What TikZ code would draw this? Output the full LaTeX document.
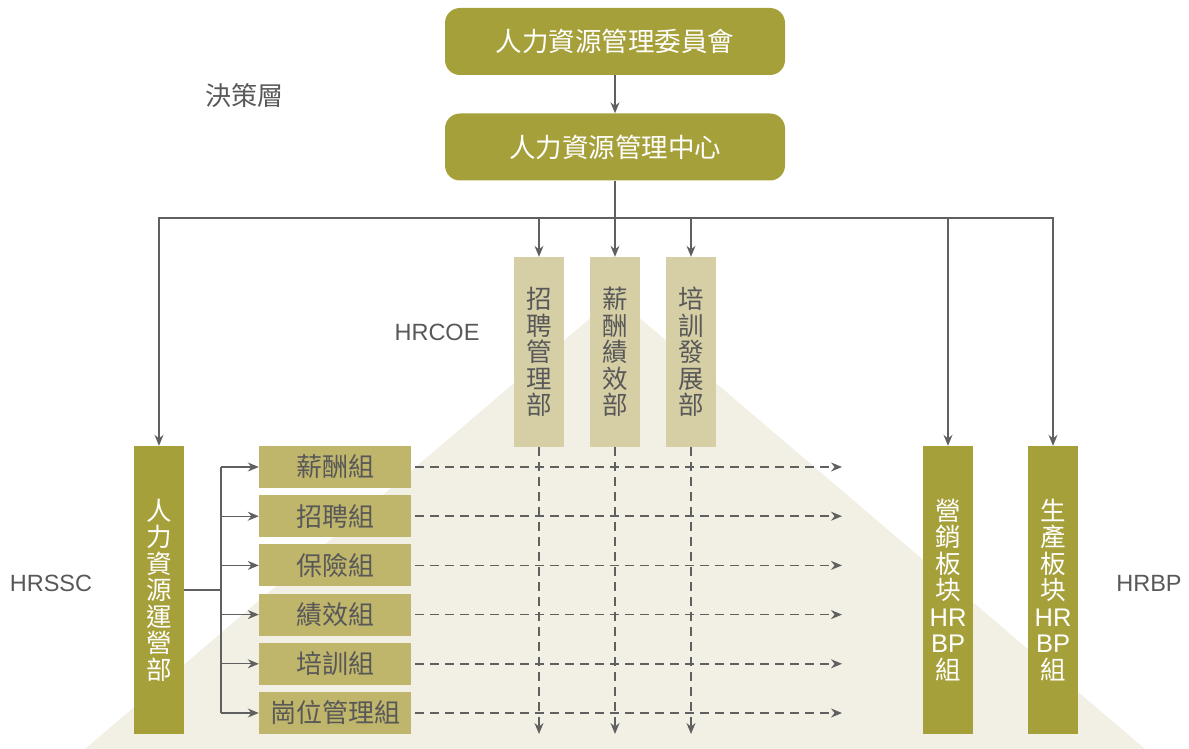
\documentclass[tikz,border=0pt]{standalone}
\usepackage{fontspec}
\setmainfont{Liberation Sans}
\newfontfamily\cjk{Noto Sans CJK TC}
\usetikzlibrary{arrows.meta}
\definecolor{hrolive}{HTML}{A6A03A}
\definecolor{grpfill}{HTML}{BFB56B}
\definecolor{colfill}{HTML}{D6CFA6}
\definecolor{tribg}{HTML}{F2F0E4}
\definecolor{linegray}{HTML}{606060}
\definecolor{txtgray}{HTML}{585858}
\begin{document}
\begin{tikzpicture}[x=1pt,y=-1pt,
  box/.style={inner sep=0pt,align=center,font=\cjk\fontsize{25.5}{26.5}\selectfont},
  topbox/.style={box,fill=hrolive,text=white,rounded corners=15pt,minimum width=340pt,minimum height=67pt,font=\cjk\fontsize{26.5}{27}\selectfont},
  colbox/.style={box,fill=colfill,text=txtgray,minimum width=50pt,minimum height=190pt},
  tallbox/.style={box,fill=hrolive,text=white,minimum width=50pt,minimum height=288pt},
  grpbox/.style={box,fill=grpfill,text=txtgray,minimum width=152pt,minimum height=42pt,font=\cjk\fontsize{26}{27}\selectfont},
  lab/.style={text=txtgray,inner sep=0pt,font=\fontsize{23.5}{26}\selectfont},
  cjklab/.style={text=txtgray,inner sep=0pt,font=\cjk\fontsize{26}{26}\selectfont},
  arr/.style={draw=linegray,line width=1.3pt,-{Stealth[length=11pt,width=9pt]}},
  dasharr/.style={arr,line width=1.5pt,dash pattern=on 9pt off 6pt}]
\useasboundingbox (0,0) rectangle (1189,749);
% background
\fill[tribg] (85,749) -- (615,297) -- (1145,749) -- cycle;
% decision layer
\node[topbox] (comm) at (615,41.5) {人力資源管理委員會};
\node[topbox] (hrmc) at (615,147) {人力資源管理中心};
\node[cjklab] (dec) at (244,96) {決策層};
\draw[arr] (comm) -- (hrmc);
\coordinate (bus) at (615,218);
\coordinate (dend) at (842,734);
% COE
\node[colbox] (recr) at (539,352) {招\\聘\\管\\理\\部};
\node[colbox] (comp) at (615,352) {薪\\酬\\績\\效\\部};
\node[colbox] (train) at (691,352) {培\\訓\\發\\展\\部};
\node[lab] (coe) at (437,332) {HRCOE};
% SSC and BP
\node[tallbox] (ops) at (159,590) {人\\力\\資\\源\\運\\營\\部};
\node[tallbox] (sales) at (948,590) {營\\銷\\板\\块\\\normalfont HR\\\normalfont BP\\組};
\node[tallbox] (prod) at (1053,590) {生\\產\\板\\块\\\normalfont HR\\\normalfont BP\\組};
\node[lab] (ssc) at (51,583) {HRSSC};
\node[lab] (bp) at (1149,583) {HRBP};
\draw[draw=linegray,line width=1.3pt] (hrmc) -- (bus);
\draw[arr] (bus) -| (ops.north);
\draw[arr] (bus) -| (sales.north);
\draw[arr] (bus) -| (prod.north);
\foreach \m in {recr,comp,train}{
  \draw[arr] (bus -| \m) -- (\m.north);
  \draw[dasharr] (\m.south) -- (\m.south |- dend);
}
% groups
\coordinate (fork) at (221,590);
\draw[draw=linegray,line width=1.3pt] (ops.east |- fork) -- (fork);
\foreach \g/\txt [count=\i] in {g1/薪酬組,g2/招聘組,g3/保險組,g4/績效組,g5/培訓組,g6/崗位管理組}{
  \node[grpbox] (\g) at (335,467+49.2*\i-49.2) {\txt};
  \draw[arr] (fork |- \g.west) -- (\g.west);
  \draw[dasharr] ([xshift=4pt]\g.east) -- (\g.east -| dend);
}
\draw[draw=linegray,line width=1.3pt] (fork |- g1.west) -- (fork |- g6.west);
\end{tikzpicture}
\end{document}
